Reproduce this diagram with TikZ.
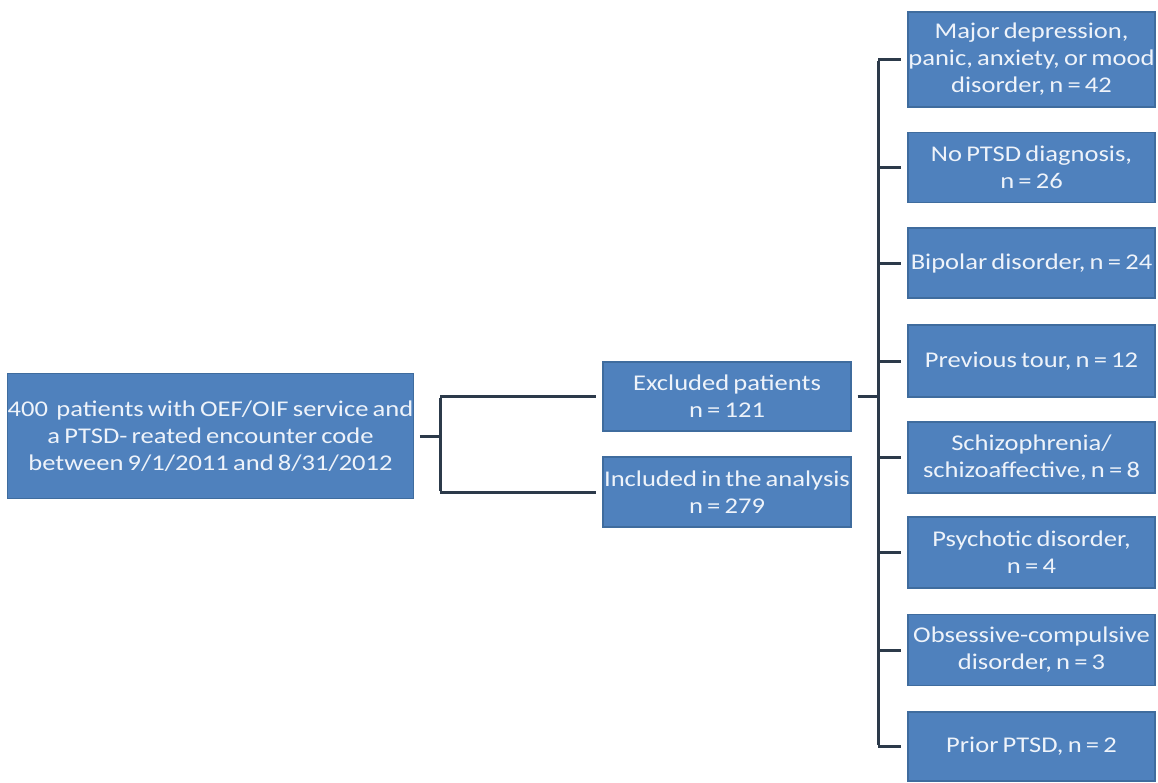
\documentclass[tikz,border=0pt]{standalone}
\usepackage{fontspec}
\setmainfont{Carlito}[FakeStretch=1.18,WordSpace=0.7]
\definecolor{boxblue}{HTML}{4F81BD}
\definecolor{boxedge}{HTML}{3F6C9E}
\definecolor{linecol}{HTML}{2C3A4A}
\definecolor{textcol}{HTML}{EEF3FA}
\begin{document}
\begin{tikzpicture}[x=1pt,y=-1pt,
  box/.style={draw=boxedge, fill=boxblue, line width=1.2pt, text=textcol, align=center,
    inner sep=0pt, font=\fontsize{22.5}{27}\selectfont},
  conn/.style={draw=linecol, line width=3pt}]
\useasboundingbox (0,0) rectangle (1158,782);
\fill[white] (0,0) rectangle (1158,782);
% left
\node[box, minimum width=403pt, minimum height=125pt] (src) at (210.5,436)
  {400\ \ patients with OEF/OIF service and\\a PTSD- reated encounter code\\between 9/1/2011 and 8/31/2012};
% middle
\node[box, minimum width=248pt, minimum height=69pt] (ex) at (727,396.5) {Excluded patients\\n = 121};
\node[box, minimum width=248pt, minimum height=70pt] (in) at (727,492) {Included in the analysis\\n = 279};
% right
\begin{scope}[every node/.append style={box, minimum width=247pt}]
\node[minimum height=95pt] (r1) at (1031.5,59.5) {Major depression,\\panic, anxiety, or mood\\disorder, n = 42};
\node[minimum height=70pt] (r2) at (1031.5,167.5) {No PTSD diagnosis,\\n = 26};
\node[minimum height=70pt] (r3) at (1031.5,263) {Bipolar disorder, n = 24};
\node[minimum height=72pt] (r4) at (1031.5,361) {Previous tour, n = 12};
\node[minimum height=71pt] (r5) at (1031.5,457.5) {Schizophrenia/\\schizoaffective, n = 8};
\node[minimum height=71pt] (r6) at (1031.5,552.5) {Psychotic disorder,\\n = 4};
\node[minimum height=71pt] (r7) at (1031.5,650) {Obsessive-compulsive\\disorder, n = 3};
\node[minimum height=69pt] (r8) at (1031.5,746.5) {Prior PTSD, n = 2};
\end{scope}
\coordinate (lbus) at (440,436);
\coordinate (rbus) at (878,397);
% left bracket
\draw[conn, shorten <=6pt] (src.east) -- (src.east -| lbus);
\draw[conn, shorten >=6pt] (lbus |- ex.west) -- (ex.west);
\draw[conn, shorten >=6pt] (lbus |- in.west) -- (in.west);
\draw[conn] ([yshift=-1.5pt]lbus |- ex.west) -- ([yshift=1.5pt]lbus |- in.west);
% right bracket
\draw[conn, shorten <=6pt] (ex.east) -- (ex.east -| rbus);
\draw[conn] ([yshift=-1.5pt]rbus |- r1.west) -- ([yshift=1.5pt]rbus |- r8.west);
\foreach \n in {r1,r2,r3,r4,r5,r6,r7,r8}
  \draw[conn, shorten >=6pt] (rbus |- \n.west) -- (\n.west);
\end{tikzpicture}
\end{document}
